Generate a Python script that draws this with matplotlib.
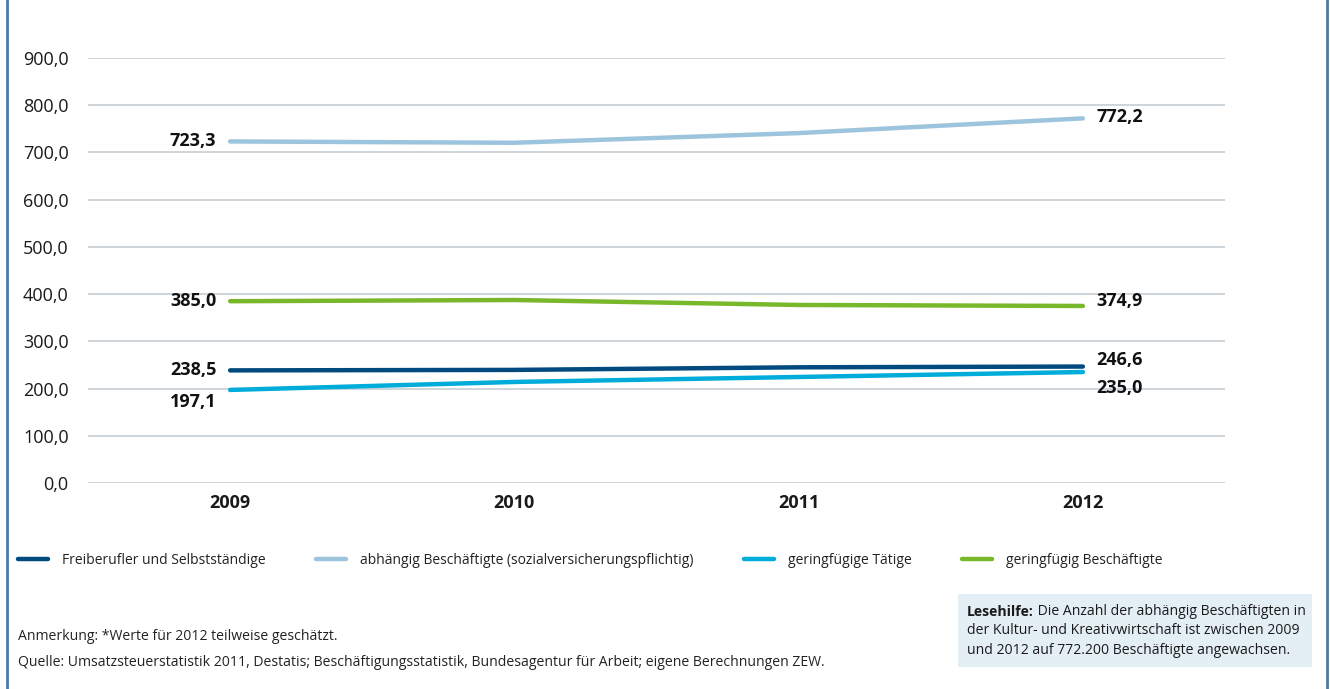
import matplotlib.pyplot as plt
from matplotlib.lines import Line2D
from matplotlib.text import Annotation

plt.rcParams['font.family'] = ['Open Sans', 'DejaVu Sans']

# data
years = [2009, 2010, 2011, 2012]
freiberufler = [238.5, 239.5, 245.0, 246.6]
abhaengig = [723.3, 720.5, 741.0, 772.2]
geringf_taetige = [197.1, 214.0, 224.5, 235.0]
geringf_besch = [385.0, 387.5, 377.0, 374.9]

series_names = ['Freiberufler und Selbstständige',
                'abhängig Beschäftigte (sozialversicherungspflichtig)',
                'geringfügige Tätige',
                'geringfügig Beschäftigte']
series_values = [freiberufler, abhaengig, geringf_taetige, geringf_besch]
colors = ['#004a7f', '#9dc4dd', '#00acd9', '#78b82a']

yticks = [0, 100, 200, 300, 400, 500, 600, 700, 800, 900]


def fmt(v):
    return f'{v:.1f}'.replace('.', ',')


fig = plt.figure(figsize=(13.3, 6.89), dpi=100)
ax = fig.add_axes([88 / 1330, 1 - 483 / 689, (1225 - 88) / 1330, (483 - 58) / 689])

for vals, col, name in zip(series_values, colors, series_names):
    ax.plot(years, vals, color=col, lw=3.2, solid_capstyle='round', label=name, zorder=3)

ax.set_xlim(2008.5, 2012.5)
ax.set_ylim(0, 900)
ax.set_yticks(yticks)
ax.set_yticklabels([fmt(t) for t in yticks], fontsize=13, color='#1a1a1a')
ax.set_xticks(years)
ax.set_xticklabels([str(y) for y in years], fontsize=13, fontweight='bold', color='#1a1a1a')
ax.tick_params(axis='both', length=0)
ax.tick_params(axis='y', pad=14)
ax.tick_params(axis='x', pad=8)
ax.grid(axis='y', color='#c5ced6', lw=1.2)
ax.set_axisbelow(True)
for s in ax.spines.values():
    s.set_visible(False)

# value labels at start and end (offsets in points)
left_off = [0, 0, -9, 0]
right_off = [4.5, 1, -11.5, 3.5]
for vals, lo, ro in zip(series_values, left_off, right_off):
    ax.annotate(fmt(vals[0]), (years[0], vals[0]), xytext=(-10, lo), textcoords='offset points',
                ha='right', va='center', fontsize=13, fontweight='bold', color='#111111')
    ax.annotate(fmt(vals[-1]), (years[-1], vals[-1]), xytext=(10, ro), textcoords='offset points',
                ha='left', va='center', fontsize=13, fontweight='bold', color='#111111')

# legend
handles = [Line2D([0], [0], color=c, lw=3.2, solid_capstyle='round') for c in colors]
fig.legend(handles, series_names, loc='center left', bbox_to_anchor=(5 / 1330, 1 - 560 / 689),
           ncol=4, frameon=False, fontsize=10, handlelength=2.2, handletextpad=1.0,
           columnspacing=3.6, labelcolor='#222222')

# notes
fig.text(18 / 1330, 1 - 636 / 689, 'Anmerkung: *Werte für 2012 teilweise geschätzt.',
         fontsize=10.1, va='center', color='#222222')
fig.text(18 / 1330, 1 - 662 / 689,
         'Quelle: Umsatzsteuerstatistik 2011, Destatis; Beschäftigungsstatistik, '
         'Bundesagentur für Arbeit; eigene Berechnungen ZEW.',
         fontsize=10.1, va='center', color='#222222')

# reading help box
fig.patches.append(plt.Rectangle((958 / 1330, 1 - 667 / 689), (1312 - 958) / 1330, (667 - 594) / 689,
                                 transform=fig.transFigure, facecolor='#e4eef5', edgecolor='none',
                                 zorder=-1))
tb = fig.text(967 / 1330, 1 - 612 / 689, 'Lesehilfe:', fontsize=10.1, fontweight='bold',
              va='center', color='#1a1a1a')
fig.add_artist(Annotation(' Die Anzahl der abhängig Beschäftigten in', xy=(1, 0), xycoords=tb,
                          ha='left', va='bottom', fontsize=10.1, color='#1a1a1a'))
fig.text(967 / 1330, 1 - 631 / 689, 'der Kultur- und Kreativwirtschaft ist zwischen 2009',
         fontsize=10.1, va='center', color='#1a1a1a')
fig.text(967 / 1330, 1 - 650 / 689, 'und 2012 auf 772.200 Beschäftigte angewachsen.',
         fontsize=10.1, va='center', color='#1a1a1a')

# side borders
for xb in (7, 1327):
    fig.add_artist(Line2D([xb / 1330, xb / 1330], [0, 1], transform=fig.transFigure,
                          color='#4a7aab', lw=2))

fig.savefig('out.png', dpi=100)
